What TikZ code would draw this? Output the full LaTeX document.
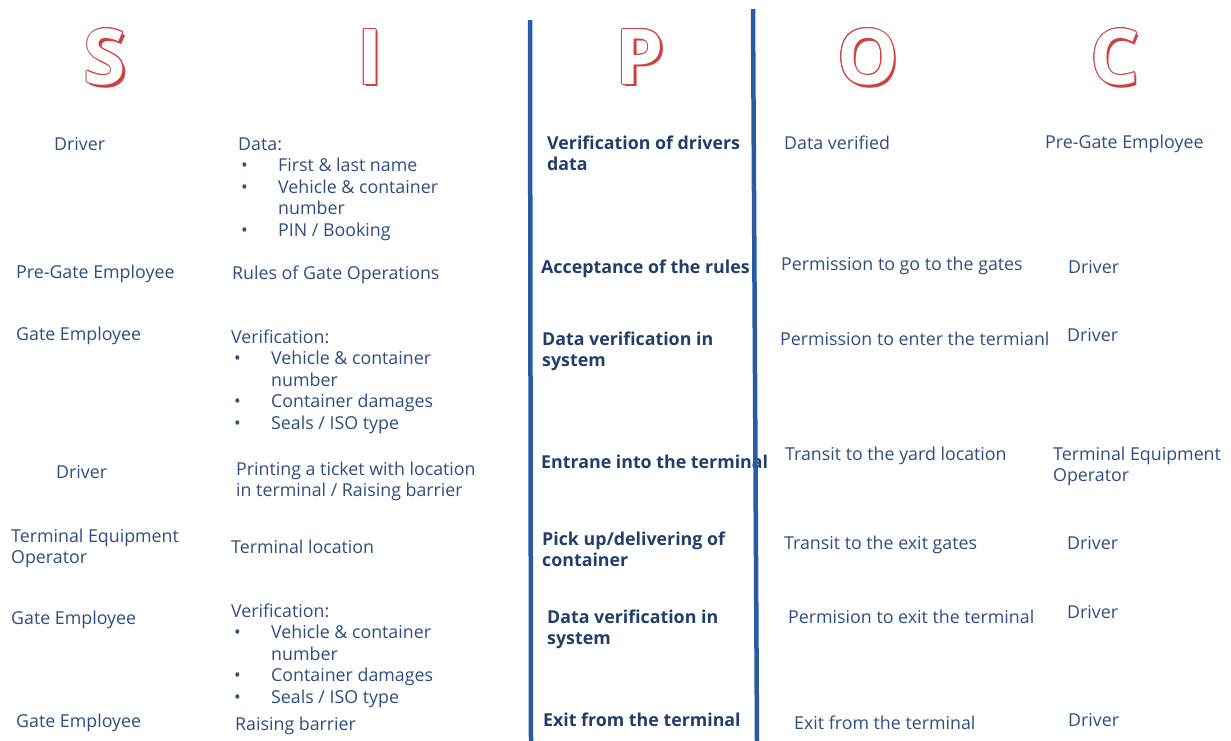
\documentclass[tikz,border=0pt]{standalone}
\usepackage{fontspec}
\setmainfont{Open Sans}

\definecolor{txtblue}{RGB}{46,78,128}
\definecolor{boldblue}{RGB}{33,62,107}
\definecolor{ruleblue}{RGB}{40,90,165}
\definecolor{letred}{RGB}{208,64,64}

\tikzset{
  cell/.style={anchor=base west, inner sep=0pt, align=left, text=txtblue,
    yshift=-1pt, font=\fontsize{17.8}{21.5}\selectfont},
  proc/.style={cell, text=boldblue, font=\fontsize{17.8}{21.5}\selectfont\bfseries},
  letter/.style={inner sep=0pt, font=\fontsize{77}{77}\selectfont\bfseries},
  divider/.style={ruleblue, line width=4.5pt},
}

\newcommand{\itm}{\makebox[40pt][l]{\hspace*{3pt}\textbullet}}
\newcommand{\hang}{\hspace*{40pt}}

\begin{document}
\begin{tikzpicture}[x=1pt,y=-1pt]
        \useasboundingbox (0,0) rectangle (1231,740);

        % heading letters
        \foreach \n/\x/\l in {s/105/S, i/370/I, p/640/P, o/868/O, c/1115/C} {
                \node[letter, text=letred] (shade\n) at (\x+2.5,59.5) {\l};
                \foreach \a in {0,30,...,330}
                        \node[letter, text=letred, shift={(\a:0.9)}] (rim\n\a) at (\x,57) {\l};
                \node[letter, text=white] (head\n) at (\x,57) {\l};
        }

        % suppliers (y = baseline of the last line)
        \foreach \n/\x/\y/\t in {
            1/54/149/Driver,
            2/16/277/Pre-Gate Employee,
            3/16/339/Gate Employee,
            4/56/477/Driver,
            5/11/562.5/{Terminal Equipment\\Operator},
            6/11/623/Gate Employee,
            7/16/726/Gate Employee}
                \node[cell] (s\n) at (\x,\y) {\t};

        % inputs
        \node[cell] (i1) at (238,235) {Data:\\
                \itm First \& last name\\
                \itm Vehicle \& container\\
                \hang number\\
                \itm PIN / Booking};
        \node[cell] (i2) at (232,278) {Rules of Gate Operations};
        \node[cell] (i3) at (231,428) {Verification:\\
                \itm Vehicle \& container\\
                \hang number\\
                \itm Container damages\\
                \itm Seals / ISO type};
        \node[cell] (i4) at (236,495.5) {Printing a ticket with location\\in terminal / Raising barrier};
        \node[cell] (i5) at (231,552) {Terminal location};
        \node[cell] (i6) at (231,702) {Verification:\\
                \itm Vehicle \& container\\
                \hang number\\
                \itm Container damages\\
                \itm Seals / ISO type};
        \node[cell] (i7) at (235,729) {Raising barrier};

        % process
        \foreach \n/\x/\y/\t in {
            1/547/169.5/{Verification of drivers\\data},
            2/541/272/Acceptance of the rules,
            3/542/365.5/{Data verification in\\system},
            4/541/467/Entrane into the terminal,
            5/542/565.5/{Pick up/delivering of\\container},
            6/547/643.5/{Data verification in\\system},
            7/543/725/Exit from the terminal}
                \node[proc] (p\n) at (\x,\y) {\t};

        % outputs
        \foreach \n/\x/\y/\t in {
            1/784/148/Data verified,
            2/781/269/Permission to go to the gates,
            3/780/344/Permission to enter the termianl,
            4/785/459/Transit to the yard location,
            5/784/548/Transit to the exit gates,
            6/788/622/Permision to exit the terminal,
            7/794/728/Exit from the terminal}
                \node[cell] (o\n) at (\x,\y) {\t};

        % customers
        \foreach \n/\x/\y/\t in {
            1/1045/147/Pre-Gate Employee,
            2/1068/272/Driver,
            3/1067/340/Driver,
            4/1053/480.5/{Terminal Equipment\\Operator},
            5/1067/548/Driver,
            6/1067/617/Driver,
            7/1068/725/Driver}
                \node[cell] (c\n) at (\x,\y) {\t};

        % dividers round the process column
        \coordinate (leftTop) at (530,20);
        \coordinate (leftBot) at (531,742);
        \coordinate (rightTop) at (753,9);
        \coordinate (rightBot) at (757,742);
        \draw[divider] (leftTop) -- (leftBot);
        \draw[divider] (rightTop) -- (rightBot);
\end{tikzpicture}
\end{document}
